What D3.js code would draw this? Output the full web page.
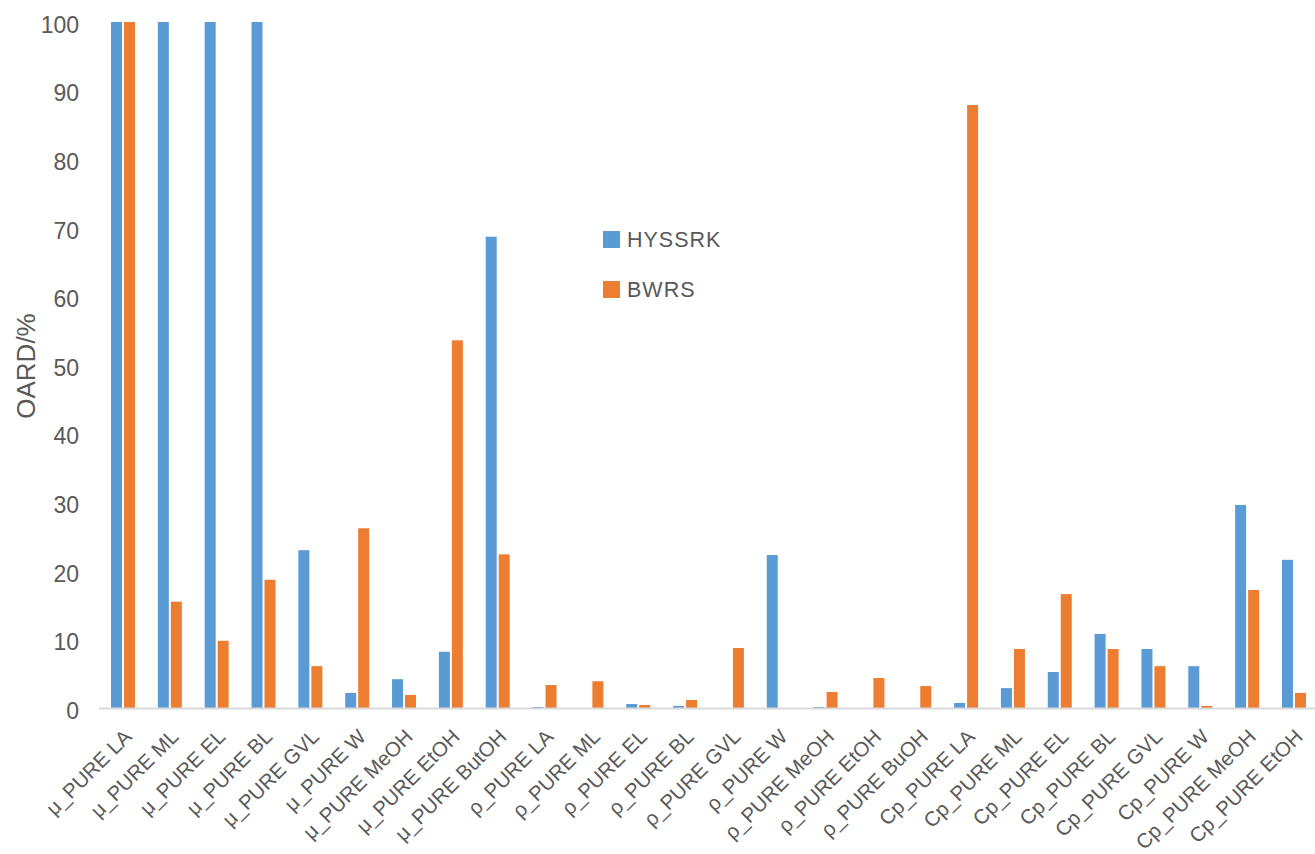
<!DOCTYPE html>
<html>
<head>
<meta charset="utf-8">
<script src="https://cdn.jsdelivr.net/npm/d3@7"></script>
<style>
  html, body { margin: 0; padding: 0; background: #fff; }
  svg { display: block; font-family: "Liberation Sans", Arial, sans-serif; }
</style>
</head>
<body>
<svg id="chart" width="1315" height="854"></svg>
<script>
const categories = [
  "μ_PURE LA", "μ_PURE ML", "μ_PURE EL", "μ_PURE BL", "μ_PURE GVL", "μ_PURE W",
  "μ_PURE MeOH", "μ_PURE EtOH", "μ_PURE ButOH",
  "ρ_PURE LA", "ρ_PURE ML", "ρ_PURE EL", "ρ_PURE BL", "ρ_PURE GVL", "ρ_PURE W",
  "ρ_PURE MeOH", "ρ_PURE EtOH", "ρ_PURE BuOH",
  "Cp_PURE LA", "Cp_PURE ML", "Cp_PURE EL", "Cp_PURE BL", "Cp_PURE GVL", "Cp_PURE W",
  "Cp_PURE MeOH", "Cp_PURE EtOH"
];
const seriesNames = ["HYSSRK", "BWRS"];
const hyssrk = [100, 100, 100, 100, 23.0, 2.2, 4.2, 8.2, 68.7,
                0.15, 0, 0.58, 0.29, 0, 22.3, 0.15, 0, 0,
                0.73, 2.9, 5.25, 10.8, 8.6, 6.1, 29.6, 21.6];
const bwrs   = [100, 15.5, 9.8, 18.7, 6.1, 26.2, 1.9, 53.6, 22.4,
                3.35, 3.9, 0.44, 1.17, 8.75, 0, 2.33, 4.37, 3.2,
                87.9, 8.6, 16.6, 8.6, 6.1, 0.3, 17.2, 2.2];
const yTicks = [0, 10, 20, 30, 40, 50, 60, 70, 80, 90, 100];
const yTitle = "OARD/%";
const colors = ["#5B9BD5", "#ED7D31"];

const svg = d3.select("#chart");
const textColor = "#595959";

const x = d3.scaleBand().domain(categories).range([99.6, 1317.4]).padding(0);
const bw = x.bandwidth();
const xSub = d3.scaleBand().domain(seriesNames)
  .range([bw * 0.2434, bw * 0.7557]).paddingInner(0.1538).paddingOuter(0);
const y = d3.scaleLinear().domain([0, 100]).range([708, 22]);

const seriesData = [hyssrk, bwrs];

// bars
const groups = svg.append("g").selectAll("g")
  .data(categories).join("g")
  .attr("transform", d => `translate(${x(d)},0)`);

groups.selectAll("rect")
  .data((d, i) => seriesNames.map((s, j) => ({ s, v: seriesData[j][i], c: colors[j] })))
  .join("rect")
  .attr("x", d => xSub(d.s))
  .attr("width", xSub.bandwidth())
  .attr("y", d => y(d.v))
  .attr("height", d => y(0) - y(d.v))
  .attr("fill", d => d.c);

// x axis line
svg.append("line")
  .attr("x1", 99).attr("x2", 1315)
  .attr("y1", y(0) + 0.5).attr("y2", y(0) + 0.5)
  .attr("stroke", "#D9D9D9").attr("stroke-width", 2);

// y axis (labels only)
const yAxis = d3.axisLeft(y).tickValues(yTicks).tickSize(0).tickPadding(0);
const yg = svg.append("g").attr("transform", "translate(79,0)").call(yAxis);
yg.select(".domain").remove();
yg.selectAll("text")
  .attr("fill", textColor)
  .attr("font-size", 23)
  .attr("font-family", "Liberation Sans, Arial, sans-serif")
  .attr("dy", "0.45em");

// x axis labels
const xAxis = d3.axisBottom(x).tickSize(0).tickPadding(0);
const xg = svg.append("g").attr("transform", `translate(0,${y(0)})`).call(xAxis);
xg.select(".domain").remove();
xg.selectAll("text")
  .attr("fill", textColor)
  .attr("font-size", 20.5)
  .attr("font-family", "Liberation Sans, Arial, sans-serif")
  .attr("text-anchor", "end")
  .attr("dy", "0")
  .attr("transform", "translate(10,30) rotate(-45)");

// y title
svg.append("text")
  .attr("transform", "translate(34.5,366) rotate(-90)")
  .attr("text-anchor", "middle")
  .attr("fill", textColor)
  .attr("font-size", 26)
  .text(yTitle);

// legend
const legend = svg.append("g");
seriesNames.forEach((s, i) => {
  const ly = 231 + i * 50;
  legend.append("rect").attr("x", 603).attr("y", ly).attr("width", 17).attr("height", 17).attr("fill", colors[i]);
  legend.append("text").attr("x", 627).attr("y", ly + 16).attr("fill", textColor)
    .attr("font-size", 21.5).attr("letter-spacing", 1).text(s);
});
</script>
</body>
</html>
